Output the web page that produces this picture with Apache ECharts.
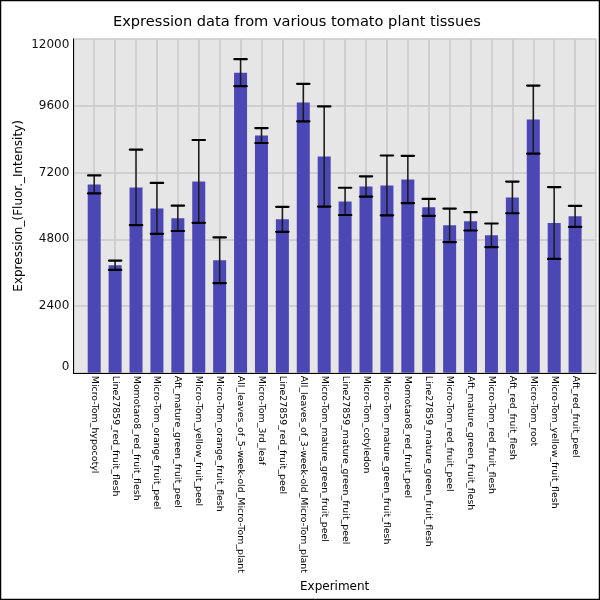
<!DOCTYPE html>
<html>
<head>
    <meta charset="utf-8">
    <title>Expression data</title>
    <script src="https://cdn.jsdelivr.net/npm/echarts@6/dist/echarts.min.js"></script>
    <style>
        html, body { margin: 0; padding: 0; background: #fff; }
    </style>
</head>
<body>
<div id="main" style="width:600px;height:600px;"></div>
<script type="text/javascript">
    // tissue names, in plotted order
    var experiments = [
        'Micro-Tom_hypocotyl', 'Line27859_red_fruit_flesh', 'Momotaro8_red_fruit_flesh',
        'Micro-Tom_orange_fruit_peel', 'Aft_mature_green_fruit_peel', 'Micro-Tom_yellow_fruit_peel',
        'Micro-Tom_orange_fruit_flesh', 'All_leaves_of_5-week-old_Micro-Tom_plant', 'Micro-Tom_3rd_leaf',
        'Line27859_red_fruit_peel', 'All_leaves_of_3-week-old_Micro-Tom_plant', 'Micro-Tom_mature_green_fruit_peel',
        'Line27859_mature_green_fruit_peel', 'Micro-Tom_cotyledon', 'Micro-Tom_mature_green_fruit_flesh',
        'Momotaro8_red_fruit_peel', 'Line27859_mature_green_fruit_flesh', 'Micro-Tom_red_fruit_peel',
        'Aft_mature_green_fruit_flesh', 'Micro-Tom_red_fruit_flesh', 'Aft_red_fruit_flesh',
        'Micro-Tom_root', 'Micro-Tom_yellow_fruit_flesh', 'Aft_red_fruit_peel'
    ];
    // mean expression (Fluor. intensity)
    var expression = [
        6772, 3867, 6664, 5911, 5553, 6880, 4046, 10790, 8530, 5517, 9714, 7777,
        6162, 6700, 6736, 6951, 5947, 5301, 5445, 4943, 6305, 9102, 5384, 5624
    ];
    // error (+/-) around each mean
    var errors = [
        323, 169, 1358, 915, 456, 1489, 820, 485, 269, 449, 675, 1800,
        490, 364, 1076, 848, 305, 604, 329, 425, 569, 1225, 1292, 377
    ];
    var yTicks = [0, 2400, 4800, 7200, 9600, 12000];

    var font = 'DejaVu Sans';
    var barData = expression.map(function (v, i) { return [i, v]; });
    var errData = expression.map(function (v, i) { return [i, v - errors[i], v + errors[i]]; });

    var myChart = echarts.init(document.getElementById('main'));
    var option = {
        backgroundColor: '#ffffff',
        animation: false,
        title: {
            text: 'Expression data from various tomato plant tissues',
            left: 108,
            top: 10,
            textStyle: { fontFamily: font, fontSize: 14.6, fontWeight: 'normal', color: '#000' }
        },
        graphic: [{
            type: 'rect',
            silent: true,
            shape: { x: 0.5, y: 0.5, width: 599, height: 599 },
            style: { fill: 'none', stroke: '#000', lineWidth: 1.5 }
        }],
        grid: {
            left: 73.3, right: 4, top: 39, bottom: 227.2,
            show: true, backgroundColor: '#e6e6e6', borderWidth: 0
        },
        xAxis: {
            type: 'value',
            min: -1,
            max: experiments.length,
            interval: 1,
            name: 'Experiment',
            nameLocation: 'middle',
            nameGap: 208,
            nameMoveOverlap: false,
            nameTextStyle: { fontFamily: font, fontSize: 12, color: '#000' },
            axisLine: { show: true, onZero: false, lineStyle: { color: '#000', width: 1 } },
            axisTick: { show: false },
            splitLine: { show: true, lineStyle: { color: '#c8c8c8', width: 1.5 } },
            axisLabel: {
                rotate: -90,
                margin: 3,
                fontFamily: font,
                fontSize: 9.4,
                color: '#000',
                showMinLabel: true,
                showMaxLabel: true,
                formatter: function (v) { return experiments[v] || ''; }
            }
        },
        yAxis: {
            type: 'value',
            min: 0,
            max: 12000,
            interval: 2400,
            name: 'Expression_(Fluor._Intensity)',
            nameLocation: 'middle',
            nameGap: 48,
            nameMoveOverlap: false,
            nameTextStyle: { fontFamily: font, fontSize: 12, color: '#000' },
            axisLine: { show: true, onZero: false, lineStyle: { color: '#000', width: 1 } },
            axisTick: { show: false },
            splitLine: { show: true, lineStyle: { color: '#c8c8c8', width: 1.5 } },
            axisLabel: {
                margin: 4,
                fontFamily: font,
                fontSize: 12,
                color: '#111',
                verticalAlignMaxLabel: 'top',
                verticalAlignMinLabel: 'bottom',
                customValues: yTicks,
                formatter: function (v) { return String(v); }
            }
        },
        series: [
            {
                name: 'Expression',
                type: 'bar',
                barWidth: 13,
                itemStyle: { color: '#4b47b4' },
                data: barData
            },
            {
                name: 'Error',
                type: 'custom',
                z: 10,
                renderItem: function (params, api) {
                    var x = api.value(0);
                    var lo = api.coord([x, api.value(1)]);
                    var hi = api.coord([x, api.value(2)]);
                    var half = 6.2;
                    return {
                        type: 'group',
                        children: [
                            { type: 'line', shape: { x1: lo[0], y1: lo[1], x2: hi[0], y2: hi[1] },
                              style: { stroke: '#1a1a1a', lineWidth: 1.5 } },
                            { type: 'line', shape: { x1: hi[0] - half, y1: hi[1], x2: hi[0] + half, y2: hi[1] },
                              style: { stroke: '#000', lineWidth: 2.2, lineCap: 'round' } },
                            { type: 'line', shape: { x1: lo[0] - half, y1: lo[1], x2: lo[0] + half, y2: lo[1] },
                              style: { stroke: '#000', lineWidth: 2.2, lineCap: 'round' } }
                        ]
                    };
                },
                data: errData
            }
        ]
    };
    myChart.setOption(option);
</script>
</body>
</html>
